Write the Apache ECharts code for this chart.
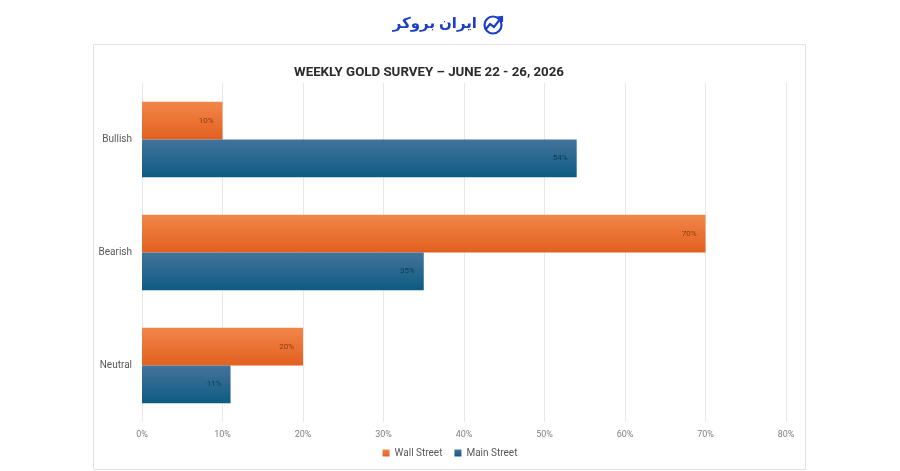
<!DOCTYPE html>
<html><head><meta charset="utf-8">
<script src="https://cdn.jsdelivr.net/npm/echarts@6/dist/echarts.min.js"></script>
<style>html,body{margin:0;padding:0;background:#fff}#c{width:900px;height:471px}</style>
</head><body><div id="c"></div>
<script>
var categories = ['Bullish', 'Bearish', 'Neutral'];
var wallStreet = [10, 70, 20];
var mainStreet = [54, 35, 11];
var xTicks = [0, 10, 20, 30, 40, 50, 60, 70, 80];

var FONT = '"Liberation Sans Narrow", "Roboto", sans-serif';
var chart = echarts.init(document.getElementById('c'));
function grad(a, b) {
  return new echarts.graphic.LinearGradient(0, 0, 0, 1, [{offset: 0, color: a}, {offset: 1, color: b}]);
}
chart.setOption({
  animation: false,
  textStyle: {fontFamily: FONT},
  title: {
    text: 'WEEKLY GOLD SURVEY – JUNE 22 - 26, 2026',
    left: 424, top: 61, textAlign: 'center',
    textStyle: {fontSize: 13.3, fontWeight: 'bold', color: '#2b2b2b', fontFamily: FONT}
  },
  graphic: [
    {type: 'rect', shape: {x: 93.5, y: 44.5, width: 712, height: 425}, style: {fill: 'none', stroke: '#dfe3e8', lineWidth: 1}, z: -1},
    {type: 'text', x: 477, y: 24, style: {text: 'ایران بروکر', font: 'bold 15px "Noto Sans", "DejaVu Sans", sans-serif', fill: '#1c3fc4', align: 'right', verticalAlign: 'middle'}},
    {type: 'circle', shape: {cx: 493, cy: 25, r: 8.5}, style: {fill: 'none', stroke: '#1c3fc4', lineWidth: 2.2}},
    {type: 'polyline', shape: {points: [[486, 29], [490, 24], [494, 27], [501, 18]]}, style: {fill: 'none', stroke: '#1c3fc4', lineWidth: 2.2}},
    {type: 'polyline', shape: {points: [[497, 17.5], [502, 17], [502, 22]]}, style: {fill: 'none', stroke: '#1c3fc4', lineWidth: 2.2}}
  ],
  legend: {
    data: ['Wall Street', 'Main Street'],
    bottom: 8, left: 'center', itemWidth: 7, itemHeight: 7, itemGap: 12, icon: 'rect',
    itemStyle: {borderWidth: 0},
    textStyle: {fontSize: 10, color: '#595959', fontFamily: FONT}
  },
  grid: {left: 142, right: 114, top: 83, bottom: 49, containLabel: false},
  xAxis: {
    type: 'value', min: 0, max: 80, interval: 10,
    axisLine: {show: false}, axisTick: {show: false},
    splitLine: {lineStyle: {color: '#e8e8e8'}},
    axisLabel: {formatter: function (v) { return xTicks.indexOf(v) >= 0 ? v + '%' : ''; }, color: '#7f7f7f', fontSize: 9, margin: 8}
  },
  yAxis: {
    type: 'category', data: categories, inverse: true,
    axisLine: {show: false}, axisTick: {show: false},
    axisLabel: {color: '#595959', fontSize: 10, margin: 10}
  },
  series: [
    {
      name: 'Wall Street', type: 'bar', data: wallStreet, barGap: '0%', barCategoryGap: '33%',
      itemStyle: {color: grad('#f2864a', '#e2601f')},
      label: {show: true, position: 'insideRight', formatter: '{c}%', fontSize: 8, color: '#8a3a10', offset: [-4, 0]}
    },
    {
      name: 'Main Street', type: 'bar', data: mainStreet,
      itemStyle: {color: grad('#44739a', '#0d5b82')},
      label: {show: true, position: 'insideRight', formatter: '{c}%', fontSize: 8, color: '#0d3a55', offset: [-4, 0]}
    }
  ]
});
</script>
</body></html>
